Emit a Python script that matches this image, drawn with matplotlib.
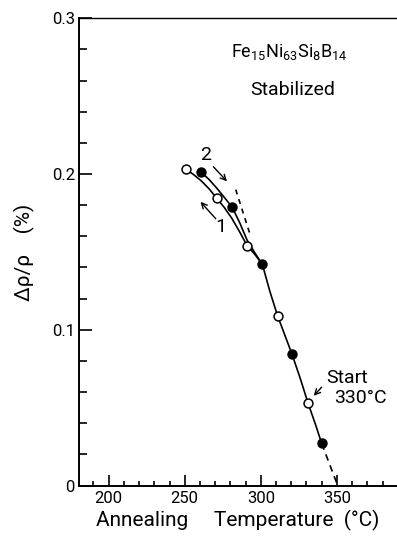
import matplotlib
matplotlib.use("Agg")
import matplotlib.pyplot as plt
from matplotlib.ticker import MultipleLocator, FixedLocator, FixedFormatter

plt.rcParams['font.family'] = ['Roboto', 'DejaVu Sans']
plt.rcParams['mathtext.fontset'] = 'custom'
plt.rcParams['mathtext.rm'] = 'Roboto'
plt.rcParams['mathtext.it'] = 'Roboto:italic'
plt.rcParams['mathtext.bf'] = 'Roboto:bold'
plt.rcParams['mathtext.default'] = 'regular'

# measured data
open_T = [251, 271, 291, 311, 331]
open_v = [0.203, 0.1845, 0.154, 0.109, 0.053]
filled_T = [261, 281, 301, 320.5, 340]
filled_v = [0.201, 0.179, 0.142, 0.0843, 0.027]

# drawn curves
curve1_T = [251, 256, 261, 266, 271, 276, 281, 286, 291, 296, 301]
curve1_v = [0.203, 0.1995, 0.1955, 0.1905, 0.1845, 0.1785, 0.1715, 0.163, 0.154, 0.1485, 0.142]
curve2_T = [261, 266, 271, 276, 281, 286, 291, 296, 301]
curve2_v = [0.201, 0.1965, 0.191, 0.185, 0.179, 0.169, 0.1575, 0.1495, 0.142]
trunk_T = [301, 306, 311, 316, 320.5, 326, 331, 336, 340]
trunk_v = [0.142, 0.1245, 0.109, 0.096, 0.0843, 0.0685, 0.053, 0.039, 0.027]
dash_low_T = [340, 350.5]
dash_low_v = [0.027, 0.0]
dash_up_T = [283.5, 293]
dash_up_v = [0.19, 0.161]

fig = plt.figure(figsize=(3.97, 5.40), dpi=100)
ax = fig.add_axes([0.199, 0.1009, 0.801, 0.8652])

lw = 1.2
ax.plot(curve1_T, curve1_v, color='black', lw=lw, zorder=2)
ax.plot(curve2_T, curve2_v, color='black', lw=lw, zorder=2)
ax.plot(trunk_T, trunk_v, color='black', lw=lw, zorder=2)
ax.plot(dash_low_T, dash_low_v, color='black', lw=lw, ls=(0, (4, 3)), zorder=2)
ax.plot(dash_up_T, dash_up_v, color='black', lw=lw, ls=(0, (3, 3)), zorder=2)

ax.plot(open_T, open_v, 'o', ms=6.4, mfc='white', mec='black', mew=1.1, zorder=3)
ax.plot(filled_T, filled_v, 'o', ms=6.4, mfc='black', mec='black', mew=1.1, zorder=3)

ax.set_xlim(180.5, 389.5)
ax.set_ylim(0, 0.3)

ax.spines['right'].set_visible(False)
ax.spines['left'].set_linewidth(1.4)
ax.spines['bottom'].set_linewidth(1.4)
ax.spines['top'].set_linewidth(1.0)

ax.xaxis.set_major_locator(FixedLocator([200, 250, 300, 350]))
ax.xaxis.set_minor_locator(MultipleLocator(10))
ax.yaxis.set_major_locator(FixedLocator([0, 0.1, 0.2, 0.3]))
ax.yaxis.set_major_formatter(FixedFormatter(['0', '0.1', '0.2', '0.3']))
ax.yaxis.set_minor_locator(MultipleLocator(0.02))
ax.tick_params(axis='both', which='both', direction='in', width=1.2, labelsize=12,
               top=False, right=False)
ax.tick_params(axis='x', which='major', length=8, pad=4)
ax.tick_params(axis='x', which='minor', length=3.6)
ax.tick_params(axis='y', which='major', length=9, pad=3)
ax.tick_params(axis='y', which='minor', length=5.8)

ax.set_xlabel('Annealing     Temperature  (°C)', fontsize=15, labelpad=3)
ax.set_ylabel('Δρ/ρ    (%)', fontsize=15, labelpad=12)

ax.text(357, 0.2752, r'Fe$_{15}$Ni$_{63}$Si$_{8}$B$_{14}$', fontsize=13,
        ha='right', va='baseline')
ax.text(321, 0.2508, 'Stabilized', fontsize=14, ha='center', va='baseline')

arrowprops = dict(arrowstyle='->', color='black', lw=1.0, mutation_scale=10)
ax.annotate('', xy=(279, 0.194), xytext=(267.6, 0.206), arrowprops=arrowprops)
ax.text(263.6, 0.209, '2', fontsize=14, ha='center', va='baseline')
ax.annotate('', xy=(259.1, 0.1835), xytext=(271.6, 0.170), arrowprops=arrowprops)
ax.text(274, 0.163, '1', fontsize=14, ha='center', va='baseline')

ax.annotate('', xy=(333.5, 0.0563), xytext=(341.2, 0.0644), arrowprops=arrowprops)
ax.text(342.9, 0.066, 'Start', fontsize=14, ha='left', va='baseline')
ax.text(348.5, 0.053, '330°C', fontsize=14, ha='left', va='baseline')

fig.savefig('out.png', dpi=100)
